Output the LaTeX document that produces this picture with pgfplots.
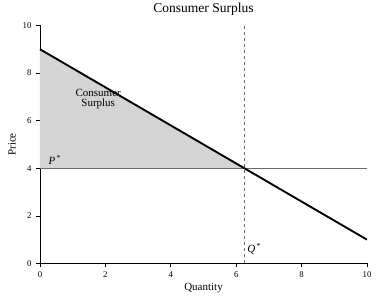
\documentclass[border=0pt]{standalone}
\usepackage{fontspec}
\setmainfont{Liberation Serif}
\usepackage{pgfplots}
\pgfplotsset{compat=1.18}
\begin{document}
\begin{tikzpicture}
\begin{axis}[
  scale only axis,
  width=327pt, height=238pt,
  xmin=0, xmax=10, ymin=0, ymax=10,
  axis x line*=bottom, axis y line*=left,
  xtick={0,2,4,6,8,10}, ytick={0,2,4,6,8,10},
  tick align=outside,
  major tick length=4pt,
  tick style={black, line width=0.6pt},
  axis line style={line width=0.8pt},
  /pgf/number format/assume math mode=true,
  ticklabel style={font=\fontsize{8.8}{10}\selectfont},
  xticklabel style={yshift=-1pt},
  yticklabel style={xshift=-1pt},
  xlabel={Quantity}, ylabel={Price},
  label style={font=\fontsize{11}{12}\selectfont},
  xlabel style={at={(rel axis cs:0.5,-0.105)}, anchor=center},
  ylabel style={at={(rel axis cs:-0.0856,0.5)}, anchor=center},
  title={Consumer Surplus},
  title style={font=\fontsize{13.5}{15}\selectfont, at={(rel axis cs:0.5,1.042)}, anchor=center},
  clip=false,
]
\addplot[fill=black!17, draw=none] coordinates {(0,9) (6.25,4) (0,4)} -- cycle;
\addplot[black!58, line width=1.5pt] coordinates {(0,4) (10,4)};
\addplot[black!58, dashed, line width=0.8pt] coordinates {(6.25,0) (6.25,10)};
\addplot[black, line width=1.9pt] coordinates {(0,9) (10,1)};
\node[font=\fontsize{11}{12}\selectfont] at (axis cs:0.45,4.33) {\textit{P}\textsuperscript{\,*}};
\node[font=\fontsize{11}{12}\selectfont] at (axis cs:6.55,0.6) {\textit{Q}\textsuperscript{\,*}};
\node[font=\fontsize{11}{12}\selectfont, align=center, inner sep=0pt] at (axis cs:1.78,6.9) {Consumer\\[-2pt]Surplus};
\path (rel axis cs:-0.1223,-0.1639) (rel axis cs:1.0367,1.0966);
\end{axis}
\end{tikzpicture}
\end{document}
